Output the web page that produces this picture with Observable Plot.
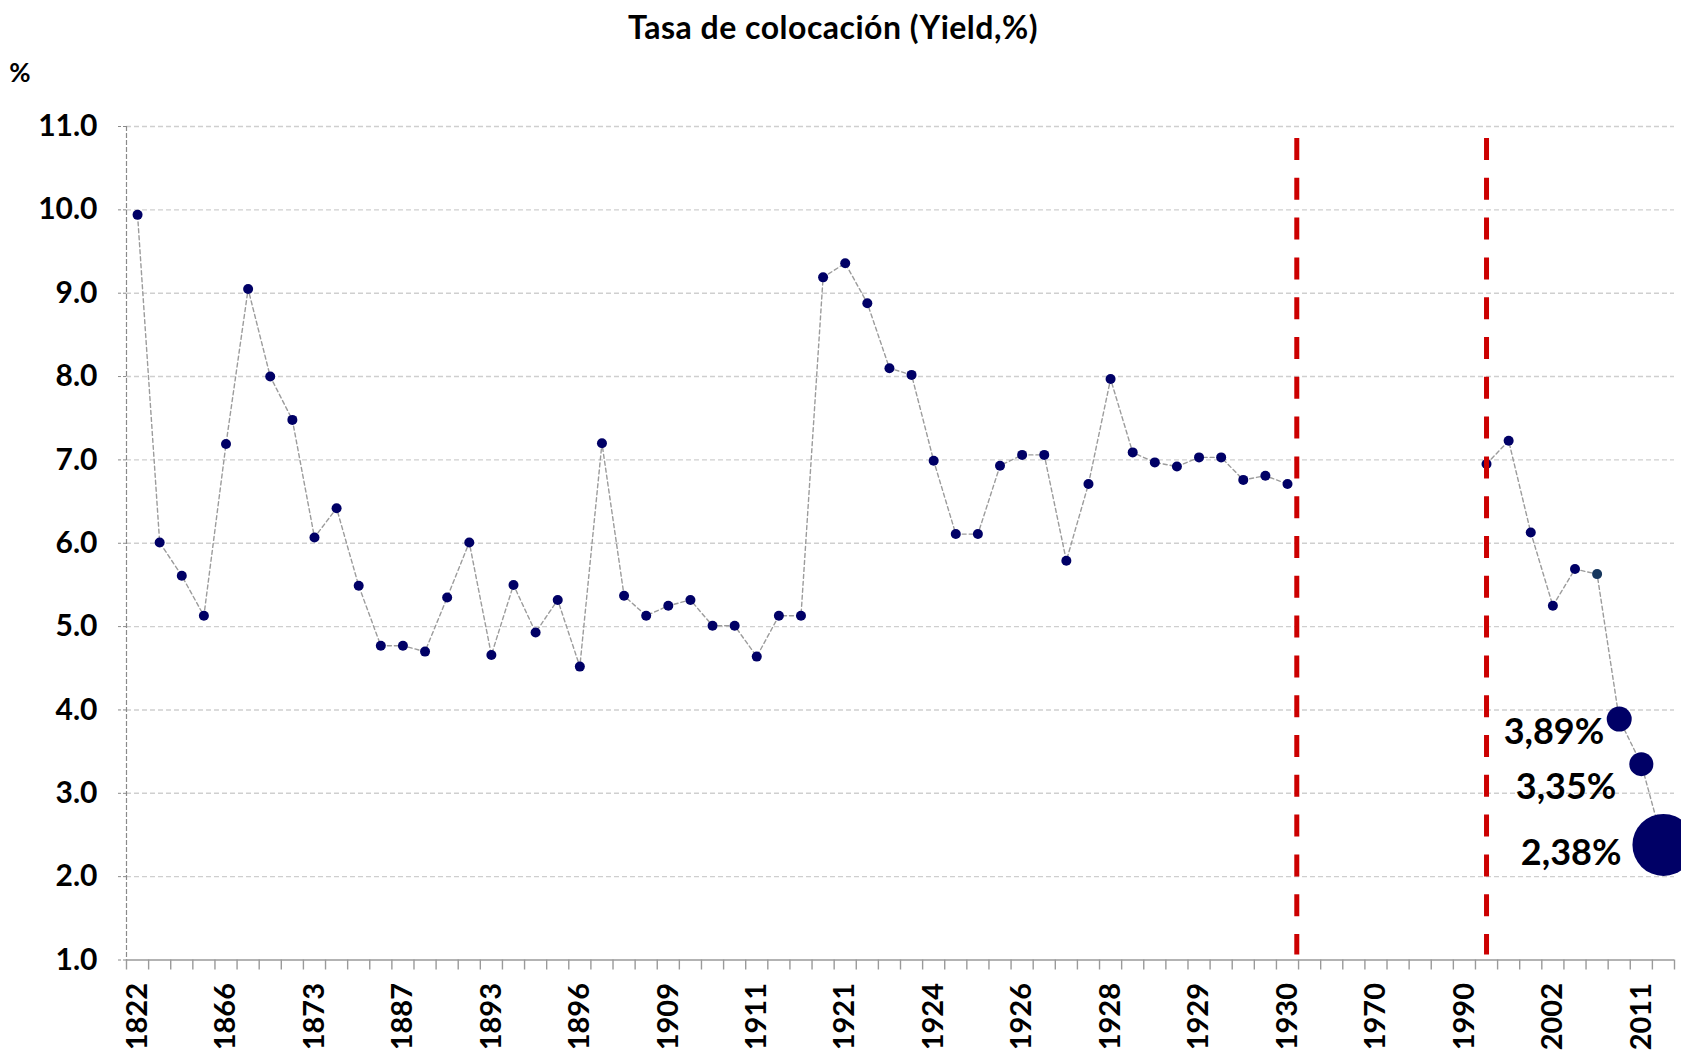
<!DOCTYPE html>
<html>
<head>
<meta charset="utf-8">
<script src="https://cdn.jsdelivr.net/npm/d3@7"></script>
<script src="https://cdn.jsdelivr.net/npm/@observablehq/plot@0.6"></script>
<style>
  html, body { margin: 0; padding: 0; background: #fff; overflow: hidden; }
  body { font-family: Lato, "Open Sans", sans-serif; }
  #title { height: 54px; line-height: 54px; text-align: center; font-weight: bold; font-size: 32px; letter-spacing: 0.5px; padding-right: 15px; color: #000; }
</style>
</head>
<body>
<div id="title">Tasa de colocación (Yield,%)</div>
<div id="chart"></div>
<script>
// ---- data ----
const tickLabels = ["1822","1866","1873","1887","1893","1896","1909","1911","1921",
                    "1924","1926","1928","1929","1930","1970","1990","2002","2011"];
const yields = [
  9.94, 6.01, 5.61, 5.13, 7.19, 9.05, 8.00, 7.48, 6.07, 6.42,
  5.49, 4.77, 4.77, 4.70, 5.35, 6.01, 4.66, 5.50, 4.93, 5.32,
  4.52, 7.20, 5.37, 5.13, 5.25, 5.32, 5.01, 5.01, 4.64, 5.13,
  5.13, 9.19, 9.36, 8.88, 8.10, 8.02, 6.99, 6.11, 6.11, 6.93,
  7.06, 7.06, 5.79, 6.71, 7.97, 7.09, 6.97, 6.92, 7.03, 7.03,
  6.76, 6.81, 6.71, null, null, null, null, null, null, null,
  null, 6.95, 7.23, 6.13, 5.25, 5.69, 5.63, 3.89, 3.35, 2.38
];
const highlightIndex = [67, 68, 69];
const highlightText = ["3,89%", "3,35%", "2,38%"];
const dividerAt = [52.92, 61.5];   // category positions of the red dashed separators
const labelEvery = 4;

// ---- styles ----
const dotColor = "#000066";
const altDotIndex = 66, altDotColor = "#17375E";
const baseR = 5;
const highlightR = [12.5, 12, 31];
const labelOffsets = [{dx: -15, dy: 13}, {dx: -25, dy: 23}, {dx: -42, dy: 8}];

const rows = yields.map((v, i) => ({i, pos: i + 0.5, v}));
const pts = rows.filter(d => d.v != null);
const rOf = d => { const k = highlightIndex.indexOf(d.i); return k < 0 ? baseR : highlightR[k]; };
const tickPos = tickLabels.map((_, k) => k * labelEvery + 0.5);

const chart = Plot.plot({
  width: 1681,
  height: 997,
  marginTop: 72,
  marginBottom: 91.5,
  marginLeft: 126,
  marginRight: 7,
  style: {fontFamily: "Lato, 'Open Sans', sans-serif", background: "#fff", color: "#000", overflow: "hidden"},
  x: {type: "linear", domain: [0, yields.length], axis: null, label: null},
  y: {domain: [1, 11], axis: null, label: null},
  r: {type: "identity"},
  marks: [
    Plot.gridY(d3.range(2, 12), {stroke: "#cfcfcf", strokeOpacity: 1, strokeWidth: 1.4, strokeDasharray: "5,3"}),
    Plot.frame({anchor: "left", stroke: "#8a8a8a", strokeDasharray: "4,3", strokeWidth: 1.2}),
    Plot.axisY(d3.range(1, 12), {tickSize: 8, fill: "none", stroke: "#8a8a8a", strokeDasharray: "3,2", label: null}),
    Plot.axisY(d3.range(1, 12), {tickSize: 0, tickPadding: 29, tickFormat: d3.format(".1f"),
      fontSize: 30, fontWeight: "bold", fill: "#000", label: null}),
    Plot.ruleY([1], {stroke: "#9a9a9a", strokeWidth: 1.6}),
    Plot.axisX(d3.range(0, yields.length + 1), {tickSize: 10, fill: "none", stroke: "#9a9a9a", strokeWidth: 1.4, label: null}),
    Plot.axisX(tickPos, {tickSize: 0, tickPadding: 23, tickRotate: -90,
      tickFormat: (d) => tickLabels[Math.round((d - 0.5) / labelEvery)],
      fontSize: 29, fontWeight: "bold", fill: "#000", label: null}),
    Plot.line(rows, {x: "pos", y: "v", stroke: "#9c9c9c", strokeWidth: 1.4, strokeDasharray: "4,3"}),
    Plot.dot(pts, {x: "pos", y: "v", r: rOf, fill: d => d.i === altDotIndex ? altDotColor : dotColor, stroke: "none"}),
    ...highlightIndex.map((idx, k) =>
      Plot.text(pts.filter(d => d.i === idx), {x: "pos", y: "v", text: () => highlightText[k],
        textAnchor: "end", dx: labelOffsets[k].dx, dy: labelOffsets[k].dy,
        fontSize: 36, fontWeight: "bold", fill: "#000"})),
    Plot.ruleX(dividerAt, {x: d => d, stroke: "#cc0000", strokeWidth: 5, strokeDasharray: "22,17.8", insetTop: 12, insetBottom: 5}),
    Plot.text(["%"], {frameAnchor: "top-left", dx: -106.5, dy: -53, textAnchor: "middle", lineAnchor: "middle",
      fontSize: 26, fontWeight: "bold", fill: "#000"})
  ]
});
document.getElementById("chart").appendChild(chart);
</script>
</body>
</html>
